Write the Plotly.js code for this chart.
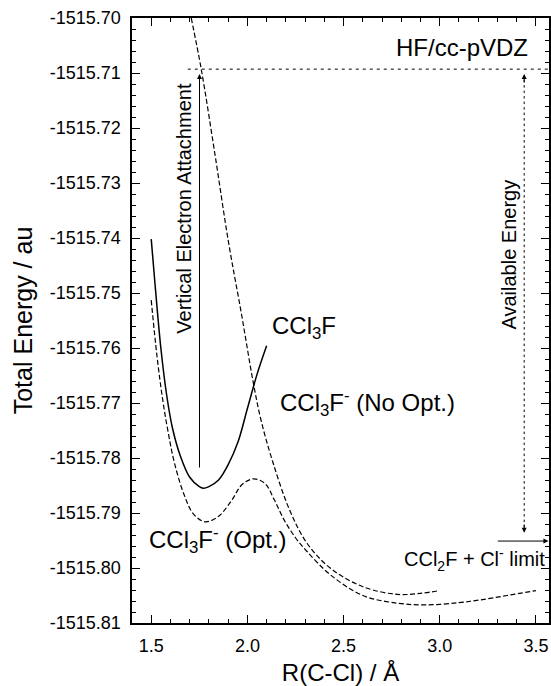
<!DOCTYPE html>
<html>
<head>
<meta charset="utf-8">
<script src="https://cdn.plot.ly/plotly-3.0.1.min.js"></script>
<style>html,body{margin:0;padding:0;background:#fff;}#chart{width:551px;height:686px;}</style>
</head>
<body>
<div id="chart"></div>
<script>
// ---- data ----
const rNeutral = [1.50,1.52,1.55,1.58,1.61,1.65,1.70,1.75,1.77,1.80,1.85,1.90,1.95,2.00,2.05,2.10];
const eNeutral = [-1515.7402,-1515.7485,-1515.7600,-1515.7685,-1515.7745,-1515.7795,-1515.7835,-1515.7852,-1515.7855,-1515.7852,-1515.7840,-1515.7812,-1515.7772,-1515.7710,-1515.7648,-1515.7596];

const rAnionNoOpt = [1.708,1.76,1.83,1.90,1.97,2.03,2.07,2.13,2.22,2.31,2.43,2.60,2.78,2.90,3.00];
const eAnionNoOpt = [-1515.7000,-1515.7093,-1515.7245,-1515.7404,-1515.7540,-1515.7662,-1515.7730,-1515.7805,-1515.7895,-1515.7955,-1515.8000,-1515.8034,-1515.8048,-1515.8046,-1515.8041];

const rAnionOpt = [1.50,1.53,1.56,1.59,1.62,1.67,1.72,1.78,1.85,1.92,1.97,2.03,2.09,2.14,2.19,2.25,2.31,2.43,2.60,2.78,2.93,3.10,3.21,3.35,3.50];
const eAnionOpt = [-1515.7513,-1515.7615,-1515.7695,-1515.7757,-1515.7808,-1515.7866,-1515.7902,-1515.7916,-1515.7906,-1515.7876,-1515.7849,-1515.7838,-1515.7846,-1515.7876,-1515.7912,-1515.7945,-1515.7970,-1515.8012,-1515.8050,-1515.8064,-1515.8067,-1515.8063,-1515.8058,-1515.8050,-1515.8041];

// reference energies / distances
const eVertical = -1515.7093;      // dotted level (vertical attachment)
const eArrowTop = -1515.7102;      // arrow tips just below it
const rVertical = 1.751;           // vertical attachment at R_e
const eVerticalTail = -1515.7820;
const rVerticalLineStart = 1.69;
const rAvail = 3.439;
const eAvailBottom = -1515.7936;
const eLimit = -1515.7951;         // CCl2F + Cl- limit
const rLimitStart = 3.294;

const xTickVals = [1.5, 2.0, 2.5, 3.0, 3.5];
const xTickText = ['1.5', '2.0', '2.5', '3.0', '3.5'];
const yTickVals = [-1515.70,-1515.71,-1515.72,-1515.73,-1515.74,-1515.75,-1515.76,-1515.77,-1515.78,-1515.79,-1515.80,-1515.81];
const yTickText = ['-1515.70','-1515.71','-1515.72','-1515.73','-1515.74','-1515.75','-1515.76','-1515.77','-1515.78','-1515.79','-1515.80','-1515.81'];

const FONT = 'Liberation Sans, Arial, Helvetica, sans-serif';

const traces = [
  {x: rNeutral, y: eNeutral, mode: 'lines', line: {color: '#000', width: 1.5, shape: 'spline'}, hoverinfo: 'skip'},
  {x: rAnionNoOpt, y: eAnionNoOpt, mode: 'lines', line: {color: '#000', width: 1.2, dash: '5px,2.5px', shape: 'spline'}, hoverinfo: 'skip'},
  {x: rAnionOpt, y: eAnionOpt, mode: 'lines', line: {color: '#000', width: 1.2, dash: '5px,2.5px', shape: 'spline'}, hoverinfo: 'skip'}
];

const axisCommon = {
  showgrid: false, zeroline: false, showline: true, linecolor: '#000', linewidth: 1.6,
  mirror: 'allticks', ticks: 'inside', ticklen: 8, tickwidth: 1, tickcolor: '#000',
  tickfont: {family: FONT, size: 18, color: '#000'}
};

const layout = {
  width: 551, height: 686,
  margin: {l: 132, r: 2, t: 18, b: 63},
  paper_bgcolor: '#fff', plot_bgcolor: '#fff',
  showlegend: false,
  font: {family: FONT, color: '#000'},
  xaxis: Object.assign({}, axisCommon, {
    range: [1.4, 3.568], tickmode: 'array', tickvals: xTickVals, ticktext: xTickText,
    minor: {tickmode: 'linear', tick0: 1.4, dtick: 0.1, ticklen: 4, tickwidth: 1, tickcolor: '#000', ticks: 'inside'},
    ticklabelstandoff: 6,
    title: {text: 'R(C-Cl) / Å', font: {family: FONT, size: 24, color: '#000'}, standoff: 10}
  }),
  yaxis: Object.assign({}, axisCommon, {
    range: [-1515.81, -1515.70], tickmode: 'array', tickvals: yTickVals, ticktext: yTickText,
    minor: {tickmode: 'linear', tick0: -1515.81, dtick: 0.002, ticklen: 4, tickwidth: 1, tickcolor: '#000', ticks: 'inside'},
    ticklabelstandoff: 6,
    title: {text: 'Total Energy / au', font: {family: FONT, size: 25, color: '#000'}, standoff: 10}
  }),
  shapes: [
    {type: 'line', xref: 'x', yref: 'y', x0: rVerticalLineStart, x1: 3.568, y0: eVertical, y1: eVertical,
     line: {color: '#000', width: 1, dash: '3px,4px'}},
    {type: 'line', xref: 'x', yref: 'y', x0: rAvail, x1: rAvail, y0: eArrowTop - 0.001, y1: eAvailBottom + 0.001,
     line: {color: '#000', width: 1, dash: '2.5px,3px'}}
  ],
  annotations: [
    // vertical electron attachment arrow
    {x: rVertical, y: eArrowTop, ax: rVertical, ay: eVerticalTail, xref: 'x', yref: 'y', axref: 'x', ayref: 'y',
     text: '', showarrow: true, arrowhead: 2, arrowsize: 1, arrowwidth: 1, arrowcolor: '#000'},
    // available energy arrow heads
    {x: rAvail, y: eArrowTop, ax: rAvail, ay: eArrowTop - 0.0018, xref: 'x', yref: 'y', axref: 'x', ayref: 'y',
     text: '', showarrow: true, arrowhead: 2, arrowsize: 1, arrowwidth: 1, arrowcolor: '#000'},
    {x: rAvail, y: eAvailBottom, ax: rAvail, ay: eAvailBottom + 0.0018, xref: 'x', yref: 'y', axref: 'x', ayref: 'y',
     text: '', showarrow: true, arrowhead: 2, arrowsize: 1, arrowwidth: 1, arrowcolor: '#000'},
    // dissociation limit arrow
    {x: 3.565, y: eLimit, ax: rLimitStart, ay: eLimit, xref: 'x', yref: 'y', axref: 'x', ayref: 'y',
     text: '', showarrow: true, arrowhead: 2, arrowsize: 1, arrowwidth: 1, arrowcolor: '#000'},
    // texts
    {x: 3.47, y: -1515.7053, xref: 'x', yref: 'y', xanchor: 'right', yanchor: 'middle', showarrow: false,
     text: 'HF/cc-pVDZ', font: {family: FONT, size: 24, color: '#000'}},
    {x: 1.67, y: -1515.7345, xref: 'x', yref: 'y', xanchor: 'center', yanchor: 'middle', showarrow: false, textangle: -90,
     text: 'Vertical Electron Attachment', font: {family: FONT, size: 20, color: '#000'}},
    {x: 3.36, y: -1515.7430, xref: 'x', yref: 'y', xanchor: 'center', yanchor: 'middle', showarrow: false, textangle: -90,
     text: 'Available Energy', font: {family: FONT, size: 20, color: '#000'}},
    {x: 2.116, y: -1515.7562, xref: 'x', yref: 'y', xanchor: 'left', yanchor: 'middle', showarrow: false,
     text: 'CCl<sub>3</sub>F', font: {family: FONT, size: 24, color: '#000'}},
    {x: 2.159, y: -1515.7700, xref: 'x', yref: 'y', xanchor: 'left', yanchor: 'middle', showarrow: false,
     text: 'CCl<sub>3</sub>F<sup>-</sup> (No Opt.)', font: {family: FONT, size: 24, color: '#000'}},
    {x: 1.476, y: -1515.7949, xref: 'x', yref: 'y', xanchor: 'left', yanchor: 'middle', showarrow: false,
     text: 'CCl<sub>3</sub>F<sup>-</sup> (Opt.)', font: {family: FONT, size: 24, color: '#000'}},
    {x: 3.558, y: -1515.7985, xref: 'x', yref: 'y', xanchor: 'right', yanchor: 'middle', showarrow: false,
     text: 'CCl<sub>2</sub>F + Cl<sup>-</sup> limit', font: {family: FONT, size: 20, color: '#000'}}
  ]
};

Plotly.newPlot('chart', traces, layout, {displayModeBar: false, staticPlot: true});
</script>
</body>
</html>
